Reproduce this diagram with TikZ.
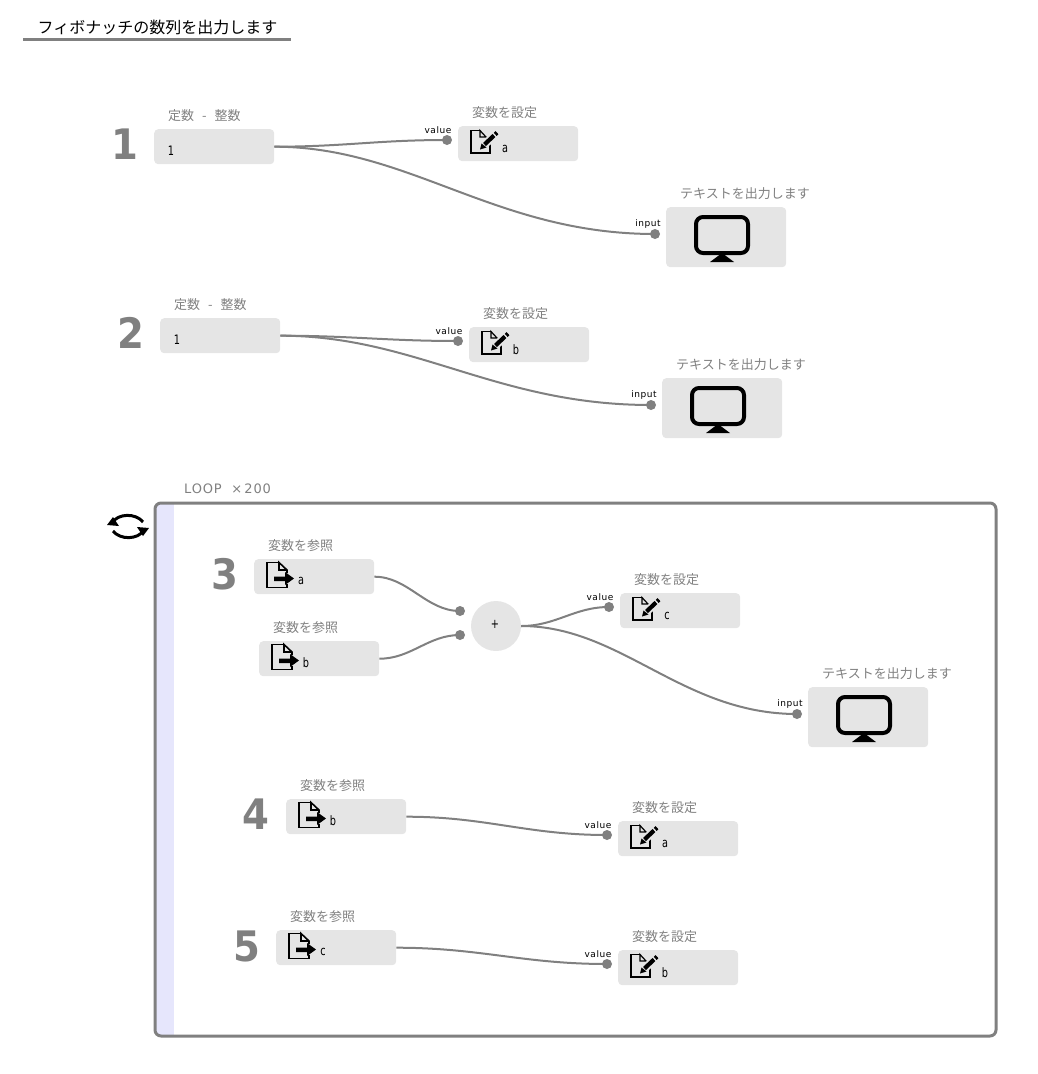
\documentclass[tikz,border=0pt]{standalone}
\usepackage{fontspec}
\setmainfont{DejaVu Sans}
\newfontfamily\jpfont{Noto Sans CJK JP}
\newfontfamily\portfont[LetterSpace=6]{DejaVu Sans}
\newfontfamily\loopfont[LetterSpace=6]{DejaVu Sans}
\usetikzlibrary{positioning,calc,arrows.meta}
\definecolor{blockgray}{HTML}{E5E5E5}
\definecolor{linegray}{HTML}{808080}
\definecolor{loopblue}{HTML}{E6E6FC}
\tikzset{>=stealth,
  block/.style={fill=blockgray,rounded corners=4pt,anchor=north west,minimum width=120pt,minimum height=35pt,inner sep=0pt},
  printblock/.style={block,minimum height=60pt},
  caption/.style={anchor=west,inner sep=0pt,text=linegray,font=\jpfont\fontsize{13}{13}\selectfont},
  stepno/.style={inner sep=0pt,text=linegray,transform shape,xscale=.92,font=\bfseries\fontsize{42}{42}\selectfont},
  valtext/.style={inner sep=0pt,transform shape,xscale=.75,font=\fontsize{13}{13}\selectfont},
  port/.style={circle,fill=linegray,inner sep=0pt,minimum size=10pt},
  porttext/.style={inner sep=0pt,font=\portfont\fontsize{9}{9}\selectfont},
  wire/.style={draw=linegray,line width=2pt},
  pics/seticon/.style={code={
    \draw[line width=1.6pt,line join=miter] (10,.5) -- (1,.5) -- (1,23) -- (20,23) -- (20,13);
    \draw[line width=1.2pt] (10,.5) -- (10,7) -- (16,7) -- cycle;
    \draw[blockgray,line width=8pt] (12,17) -- (27,3);
    \draw[line width=4.2pt] (14.5,14.5) -- (24,5.5);
    \draw[line width=4.2pt] (25.2,4.4) -- (27,2.7);
    \fill (10,19.5) -- (11.5,13.5) -- (16.5,17.5) -- cycle;
  }},
  pics/geticon/.style={code={
    \draw[line width=1.6pt] (13,.5) -- (1,.5) -- (1,25.5) -- (21,25.5) -- (21,22);
    \draw[line width=1.6pt] (21,11) -- (21,8) -- (13,.5) -- (13,8) -- (21,8);
    \fill (8,14.5) -- (19,14.5) -- (19,10) -- (28,16.5) -- (19,23) -- (19,19) -- (8,19) -- cycle;
  }},
  pics/printicon/.style={code={
    \draw[line width=4pt,rounded corners=7pt] (30,10) rectangle (82,46);
    \fill (56,46) -- (68,55) -- (44,55) -- cycle;
  }}
}
\begin{document}
\begin{tikzpicture}[x=1pt,y=-1pt]
\useasboundingbox (0,0) rectangle (1037,1074);
% title
\node[anchor=west,inner sep=0pt,font=\jpfont\fontsize{16}{16}\selectfont] (title) at (37.5,27) {フィボナッチの数列を出力します};
\draw[linegray,line width=3pt] (23,39.5) -- (291,39.5);
% loop frame
\begin{scope}
\clip[rounded corners=6pt] (155,503) rectangle (996,1036);
\fill[loopblue] (155,503) rectangle (174,1036);
\end{scope}
\draw[linegray,line width=3pt,rounded corners=6pt] (155,503) rectangle (996,1036);
\node[anchor=west,inner sep=0pt,text=linegray,font=\loopfont\fontsize{13}{13}\selectfont] (looptext) at (184,489) {LOOP\ \ ×\,200};
\draw[line width=3pt] (112,523) .. controls (118,513) and (136,513) .. (143,522);
\fill (107,525) -- (119,526) -- (113,517) -- cycle;
\draw[line width=3pt] (144,530) .. controls (138,540) and (120,540) .. (113,531);
\fill (149,528) -- (137,527) -- (143,536) -- cycle;
% step numbers
\foreach \n/\x/\y in {1/124.5/144,2/131/333,3/224.5/574,4/256/814,5/247/946}
  \node[stepno] (no\n) at (\x,\y) {\n};
% constants
\foreach \n/\x/\y in {one/154/129,two/160/318} {
  \node[block] (\n) at (\x,\y) {};
  \node[caption] (\n cap) at ($(\x,\y)+(14,-13)$) {定数\hspace{8pt}-\hspace{8pt}整数};
  \node[valtext] (\n val) at ($(\x,\y)+(17,22)$) {1};
}
% variable getters
\foreach \n/\x/\y/\t in {geta/254/559/a,getb/259/641/b,getbb/286/799/b,getc/276/930/c} {
  \node[block] (\n) at (\x,\y) {};
  \node[caption] (\n cap) at ($(\x,\y)+(14,-13.5)$) {変数を参照};
  \pic at ($(\x,\y)+(12,3)$) {geticon};
  \node[valtext] (\n val) at ($(\x,\y)+(47,22)$) {\t};
}
% variable setters
\foreach \n/\x/\y/\t in {seta/458/126/a,setb/469/327/b,setc/620/593/c,setaa/618/821/a,setbb/618/950/b} {
  \node[block] (\n) at (\x,\y) {};
  \node[caption] (\n cap) at ($(\x,\y)+(14,-13)$) {変数を設定};
  \pic at ($(\x,\y)+(12,4)$) {seticon};
  \node[valtext] (\n val) at ($(\x,\y)+(47,22.5)$) {\t};
  \node[port] (\n port) at ($(\x,\y)+(-11,14)$) {};
  \node[porttext] (\n lab) at ($(\x,\y)+(-20,4)$) {value};
}
% text output
\foreach \n/\x/\y in {printa/666/207,printb/662/378,printc/808/687} {
  \node[printblock] (\n) at (\x,\y) {};
  \node[caption] (\n cap) at ($(\x,\y)+(14,-13.5)$) {テキストを出力します};
  \pic at (\x,\y) {printicon};
  \node[port] (\n port) at ($(\x,\y)+(-11,27)$) {};
  \node[porttext] (\n lab) at ($(\x,\y)+(-18,17.5)$) {input};
}
% adder
\node[circle,fill=blockgray,minimum size=50pt,inner sep=0pt] (add) at (496,626) {};
\node[valtext] (addval) at (495,624) {+};
\node[port] (addx) at (460,611) {};
\node[port] (addy) at (460,635) {};
% connectors
\draw[wire] (one.east) .. controls +(70,0) and +(-70,0) .. (setaport.center);
\draw[wire] (one.east) .. controls +(135,0) and +(-160,0) .. (printaport.center);
\draw[wire] (two.east) .. controls +(71,0) and +(-71,0) .. (setbport.center);
\draw[wire] (two.east) .. controls +(135,0) and +(-155,0) .. (printbport.center);
\draw[wire] (geta.east) .. controls +(34,0) and +(-34,0) .. (addx.center);
\draw[wire] (getb.east) .. controls +(32,0) and +(-32,0) .. (addy.center);
\draw[wire] (add.east) .. controls +(35,0) and +(-35,0) .. (setcport.center);
\draw[wire] (add.east) .. controls +(100,0) and +(-115,0) .. (printcport.center);
\draw[wire] (getbb.east) .. controls +(80,0) and +(-80,0) .. (setaaport.center);
\draw[wire] (getc.east) .. controls +(84,0) and +(-84,0) .. (setbbport.center);
\end{tikzpicture}
\end{document}
